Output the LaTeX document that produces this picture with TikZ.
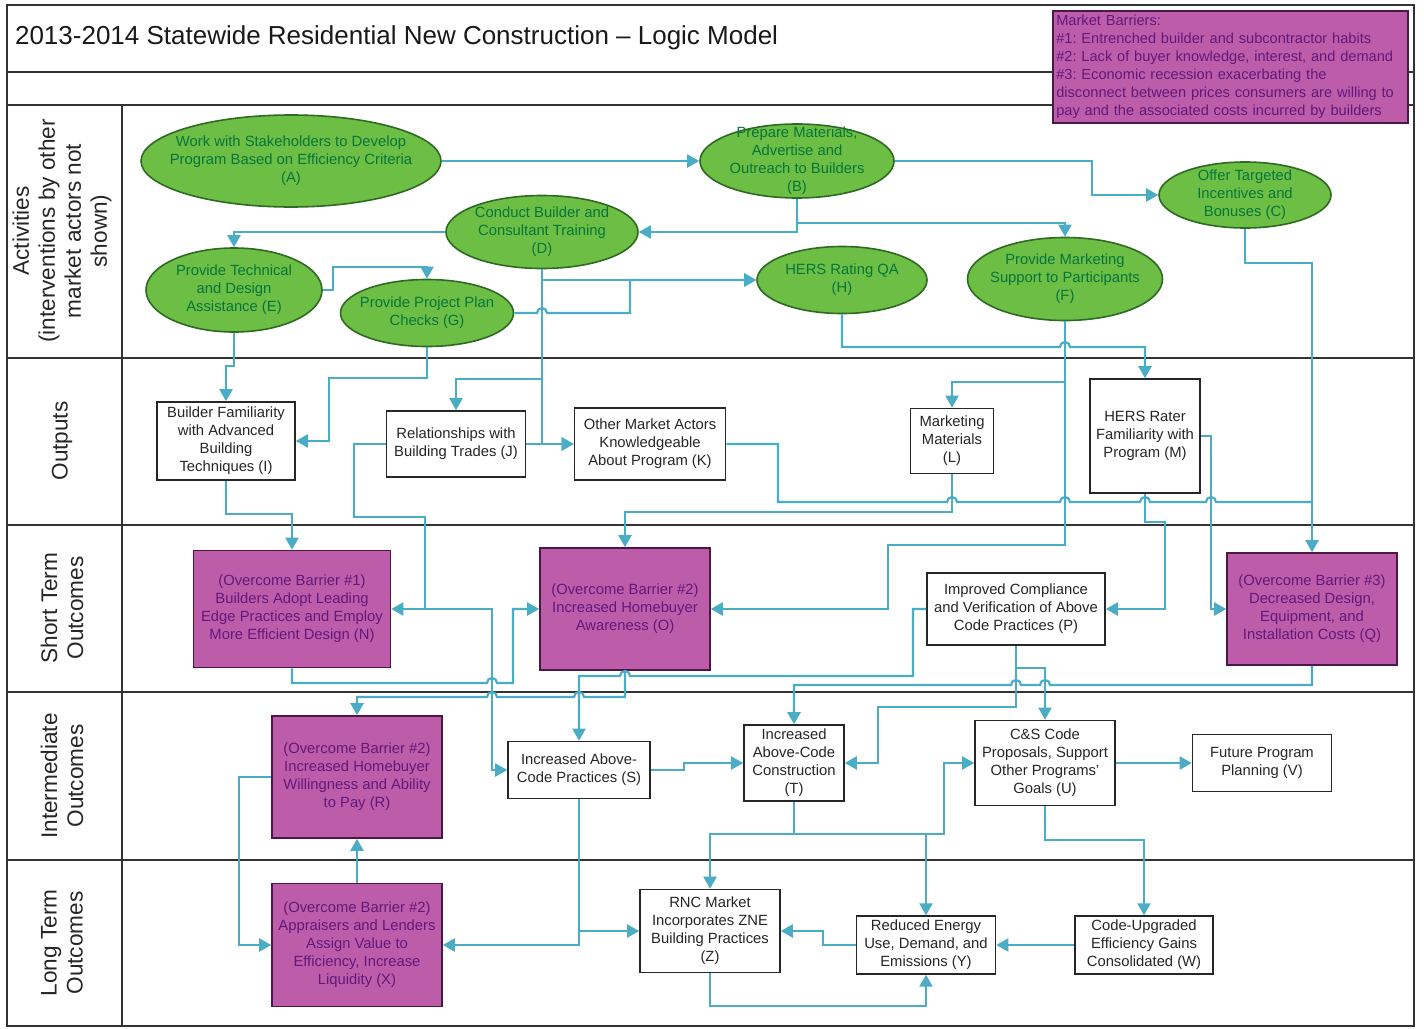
\documentclass[tikz,border=0pt]{standalone}
\usepackage{fontspec}
\setmainfont{Liberation Sans}
\usetikzlibrary{shapes.geometric,arrows.meta}
\definecolor{actfill}{HTML}{6CBE45}
\definecolor{actline}{HTML}{2E6A22}
\definecolor{acttext}{HTML}{07763A}
\definecolor{barfill}{HTML}{BD5DAA}
\definecolor{barline}{HTML}{4A1848}
\definecolor{bartext}{HTML}{62187A}
\definecolor{flow}{HTML}{4BACC6}
\definecolor{framecol}{HTML}{333333}
\frenchspacing
\begin{document}
\begin{tikzpicture}[x=0.5pt,y=-0.5pt,
  sz/.style 2 args={minimum width=#1*0.5pt, minimum height=#2*0.5pt},
  body/.style={font=\fontsize{7.4}{9}\selectfont, align=center},
  act/.style={ellipse, draw=actline, line width=0.8pt, fill=actfill, inner sep=0pt},
  acttxt/.style={body, text=acttext, inner sep=0pt},
  outbox/.style={rectangle, draw=black!85, line width=0.8pt, fill=white, body, text=black!85, inner sep=2pt},
  barrier/.style={rectangle, draw=barline, line width=0.8pt, fill=barfill, body, text=bartext, inner sep=2pt},
  flowline/.style={draw=flow, line width=1.1pt},
  arr/.style={flowline, -{Triangle[length=6pt,width=6.5pt]}},
  lane/.style={font=\fontsize{11.3}{13}\selectfont, align=center, rotate=90, text=black!85},
]
\useasboundingbox (0,0) rectangle (1424,1028);

% frame and swim lanes
\begin{scope}[draw=framecol, line width=1pt]
  \draw (7,5) rectangle (1414,1026);
  \draw (7,72) -- (1414,72);
  \draw (7,105) -- (1414,105);
  \draw (122,105) -- (122,1026);
  \foreach \yy in {358,525,692,860} \draw (7,\yy) -- (1414,\yy);
\end{scope}

\node[anchor=west, font=\fontsize{13}{15}\selectfont, text=black!90] (title) at (8,38)
  {2013-2014 Statewide Residential New Construction \textendash{} Logic Model};

\node[barrier, anchor=north west, sz={355}{112}, align=left, text width=174pt,
      inner xsep=1.5pt, font=\fontsize{7.3}{9}\selectfont] (mb) at (1052,10)
  {Market Barriers:\\
   \#1: Entrenched builder and subcontractor habits\\
   \#2: Lack of buyer knowledge, interest, and demand\\
   \#3: Economic recession exacerbating the\\
   disconnect between prices consumers are willing to\\
   pay and the associated costs incurred by builders};

% lane titles
\node[lane] (lnAct) at (62,231) {Activities\\(interventions by other\\market actors not\\shown)};
\node[lane] (lnOut) at (62,441) {Outputs};
\node[lane] (lnShort) at (62,608) {Short Term\\Outcomes};
\node[lane] (lnMid) at (62,776) {Intermediate\\Outcomes};
\node[lane] (lnLong) at (62,943) {Long Term\\Outcomes};

% activities
\node[act, sz={300}{92}, label={[acttxt]center:{Work with Stakeholders to Develop\\Program Based on Efficiency Criteria\\(A)}}] (A) at (291,161) {};
\node[act, sz={194}{74}, label={[acttxt]center:{Prepare Materials,\\Advertise and\\Outreach to Builders\\(B)}}] (B) at (797,161) {};
\node[act, sz={172}{66}, label={[acttxt]center:{Offer Targeted\\Incentives and\\Bonuses (C)}}] (C) at (1245,195) {};
\node[act, sz={192}{73}, label={[acttxt]center:{Conduct Builder and\\Consultant Training\\(D)}}] (D) at (542,232) {};
\node[act, sz={176}{84}, label={[acttxt]center:{Provide Technical\\and Design\\Assistance (E)}}] (E) at (234,290) {};
\node[act, sz={173}{67}, label={[acttxt]center:{Provide Project Plan\\Checks (G)}}] (G) at (427,313) {};
\node[act, sz={170}{67}, label={[acttxt]center:{HERS Rating QA\\(H)}}] (H) at (842,280) {};
\node[act, sz={195}{83}, label={[acttxt]center:{Provide Marketing\\Support to Participants\\(F)}}] (F) at (1065,279) {};

% outputs
\node[outbox, sz={138}{78}] (I) at (226,441) {Builder Familiarity\\with Advanced\\Building\\Techniques (I)};
\node[outbox, sz={139}{66}] (J) at (456,444) {Relationships with\\Building Trades (J)};
\node[outbox, sz={151}{72}] (K) at (650,444) {Other Market Actors\\Knowledgeable\\About Program (K)};
\node[outbox, sz={83}{65}] (L) at (952,441) {Marketing\\Materials\\(L)};
\node[outbox, sz={110}{114}] (M) at (1145,436) {HERS Rater\\Familiarity with\\Program (M)};

% short term outcomes
\node[barrier, sz={197}{117}] (N) at (292,609) {(Overcome Barrier \#1)\\Builders Adopt Leading\\Edge Practices and Employ\\More Efficient Design (N)};
\node[barrier, sz={170}{122}] (O) at (625,609) {(Overcome Barrier \#2)\\Increased Homebuyer\\Awareness (O)};
\node[outbox, sz={178}{72}] (P) at (1016,609) {Improved Compliance\\and Verification of Above\\Code Practices (P)};
\node[barrier, sz={170}{112}] (Q) at (1312,609) {(Overcome Barrier \#3)\\Decreased Design,\\Equipment, and\\Installation Costs (Q)};

% intermediate outcomes
\node[barrier, sz={170}{122}] (R) at (357,777) {(Overcome Barrier \#2)\\Increased Homebuyer\\Willingness and Ability\\to Pay (R)};
\node[outbox, sz={142}{57}] (S) at (579,770) {Increased Above-\\Code Practices (S)};
\node[outbox, sz={100}{76}] (T) at (794,763) {Increased\\Above-Code\\Construction\\(T)};
\node[outbox, sz={140}{85}] (U) at (1045,763) {C\&S Code\\Proposals, Support\\Other Programs'\\Goals (U)};
\node[outbox, sz={139}{57}] (V) at (1262,763) {Future Program\\Planning (V)};

% long term outcomes
\node[barrier, sz={170}{123}] (X) at (357,945) {(Overcome Barrier \#2)\\Appraisers and Lenders\\Assign Value to\\Efficiency, Increase\\Liquidity (X)};
\node[outbox, sz={140}{83}] (Z) at (710,931) {RNC Market\\Incorporates ZNE\\Building Practices\\(Z)};
\node[outbox, sz={139}{56}] (Y) at (926,945) {Reduced Energy\\Use, Demand, and\\Emissions (Y)};
\node[outbox, sz={138}{56}] (W) at (1144,945) {Code-Upgraded\\Efficiency Gains\\Consolidated (W)};

% branch points
\coordinate (bf) at (797,223);
\coordinate (dh) at (542,280);
\coordinate (dj) at (542,379);
\coordinate (fl) at (1065,382);
\coordinate (js) at (425,609);
\coordinate (pb) at (1016,668);
\coordinate (tb) at (794,834);
\coordinate (ty) at (926,834);
\coordinate (sz) at (579,931);

% connectors among activities
\draw[arr] (A.east) -- (B.west);
\draw[arr] (B.east) -- (1092,161) |- (C.west);
\draw[arr] (B.south) |- (D.east);
\draw[arr] (bf) -| (F.north);
\draw[arr] (D.west) -| (E.north);
\draw[arr] (E.east) -- (333,290) -- (333,267) -| (G.north);
\draw[arr] (G.east) -- (537,313) arc[start angle=180,end angle=360,radius=5] -- (630,313) |- (H.west);
\draw[arr] (dh) -- (H.west);

% activities to outputs
\draw[arr] (D.south) |- (K.west);
\draw[arr] (dj) -| (J.north);
\draw[arr] (J.east) -- (K.west);
\draw[arr] (G.south) |- (329,378) |- (I.east);
\draw[arr] (E.south) -- (234,366) -- (226,366) -- (I.north);
\draw[arr] (H.south) |- (1060,347) arc[start angle=180,end angle=360,radius=5] -- (1145,347) -- (M.north);
\draw[arr] (fl) -| (L.north);
\draw[arr] (C.south) |- (1312,263) -- (Q.north);

% outputs to short term outcomes
\draw[arr] (I.south) |- (292,514) -- (N.north);
\draw[arr] (J.west) -- (354,444) |- (425,517) |- (N.east);
\draw[arr] (js) -- (492,609) |- (S.west);
\draw[flowline] (K.east) -| (778,502) -- (947,502)
  arc[start angle=180,end angle=360,radius=5] -- (1060,502)
  arc[start angle=180,end angle=360,radius=5] -- (1140,502)
  arc[start angle=180,end angle=360,radius=5] -- (1206,502)
  arc[start angle=180,end angle=360,radius=5] -- (1312,502);
\draw[arr] (F.south) -- (1065,545) -| (888,609) -- (O.east);
\draw[arr] (L.south) -- (952,512) -| (O.north);
\draw[arr] (M.south) -- (1145,522) -| (1165,609) -- (P.east);
\draw[arr] (M.east) -| (1211,609) -- (Q.west);

% short term to intermediate outcomes
\draw[arr] (N.south) |- (487,683) arc[start angle=180,end angle=360,radius=5] -- (513,683) |- (O.west);
\draw[arr] (P.west) -| (913,676) -- (630,676) arc[start angle=0,end angle=-180,radius=5] -- (579,676) -- (S.north);
\draw[arr] (O.south) -- (625,697) -- (584,697) arc[start angle=0,end angle=-180,radius=5]
  -- (497,697) arc[start angle=0,end angle=-180,radius=5] -- (357,697) -- (R.north);
\draw[arr] (Q.south) -- (1312,685) -- (1050,685) arc[start angle=0,end angle=-180,radius=5]
  -- (1021,685) arc[start angle=0,end angle=-180,radius=5] -- (794,685) -- (T.north);
\draw[arr] (P.south) -- (pb) -| (U.north);
\draw[arr] (pb) -- (1016,707) -| (878,763) -- (T.east);

% intermediate and long term outcomes
\draw[arr] (S.east) -- (684,770) |- (T.west);
\draw[arr] (T.south) -- (tb) -| (Z.north);
\draw[arr] (tb) -| (944,763) -- (U.west);
\draw[arr] (ty) -- (Y.north);
\draw[arr] (U.east) -- (V.west);
\draw[arr] (U.south) |- (1144,840) -- (W.north);
\draw[arr] (S.south) |- (X.east);
\draw[arr] (sz) -- (Z.west);
\draw[arr] (R.west) -| (239,945) -- (X.west);
\draw[arr] (X.north) -- (R.south);
\draw[arr] (Y.west) -| (823,931) -- (Z.east);
\draw[arr] (W.west) -- (Y.east);
\draw[arr] (Z.south) |- (926,1006) -- (Y.south);
\end{tikzpicture}
\end{document}
